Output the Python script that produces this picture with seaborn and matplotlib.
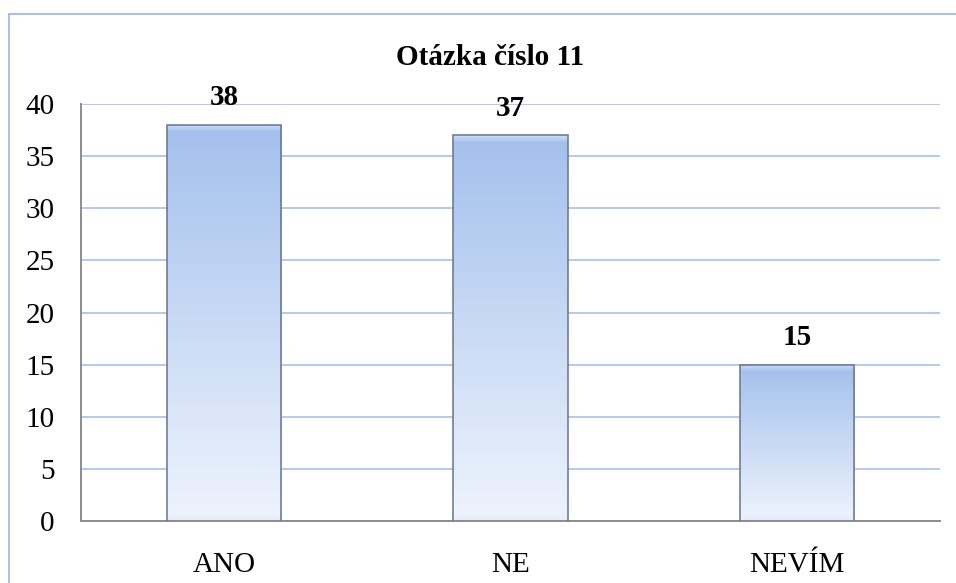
# Bar chart "Otázka číslo 11" - Excel style gradient bars

import seaborn as sns
import matplotlib.pyplot as plt
import numpy as np
import pandas as pd
from matplotlib.colors import to_rgb
from matplotlib.lines import Line2D

categories = ['ANO', 'NE', 'NEVÍM']
counts = [38, 37, 15]
title = 'Otázka číslo 11'
y_ticks = [0, 5, 10, 15, 20, 25, 30, 35, 40]

df = pd.DataFrame({'Odpověď': categories, 'Počet': counts})

sns.set_style("white")
plt.rcParams['font.family'] = ['Liberation Serif', 'DejaVu Serif']
plt.rcParams['text.color'] = 'black'

fig = plt.figure(figsize=(9.56, 5.83), dpi=100)
ax = fig.add_axes([0.0847, 0.1063, 0.8986, 0.7153])

sns.barplot(data=df, x='Odpověď', y='Počet',
            color='#B9CFF1', width=0.4, edgecolor='#66748C', linewidth=1.1,
            ax=ax, zorder=3)

ax.set_xlim(-0.5, 2.5)
ax.set_ylim(0, 40)

# gradient fill inside every bar (dark on top, light at the bottom,
# with a thin light bevel band along the top and bottom edge)
bottom_c = np.array(to_rgb('#EEF4FD'))
mid_c = np.array(to_rgb('#C9DAF5'))
top_c = np.array(to_rgb('#A3C0EC'))
bevel_c = np.array(to_rgb('#D9E6FA'))
px_per_unit = 418 / 40
for patch in ax.patches:
    x0, y0 = patch.get_x(), patch.get_y()
    w, h = patch.get_width(), patch.get_height()
    n = max(int(h * px_per_unit), 2)
    t = np.linspace(0, 1, n)
    rows = np.where(t[:, None] < 0.5,
                    bottom_c + (mid_c - bottom_c) * (t[:, None] / 0.5),
                    mid_c + (top_c - mid_c) * ((t[:, None] - 0.5) / 0.5))
    band = 7
    for k in range(band):
        a = 1 - k / band
        rows[n - 1 - k] = rows[n - 1 - k] * (1 - a * 0.8) + bevel_c * a * 0.8
        rows[k] = rows[k] * (1 - a * 0.5) + np.array(to_rgb('#DCE4F0')) * a * 0.5
    img = rows[:, None, :]
    im = ax.imshow(img, origin='lower', aspect='auto',
                   extent=[x0, x0 + w, y0, y0 + h], zorder=3.5)
    im.set_clip_path(patch)
    patch.set_facecolor('none')
    patch.set_zorder(4)

ax.set_xlim(-0.5, 2.5)
ax.set_ylim(0, 40)
ax.set_yticks(y_ticks)
ax.set_xlabel('')
ax.set_ylabel('')
ax.tick_params(axis='both', length=0, labelsize=21, colors='black')
ax.tick_params(axis='x', pad=22)
ax.tick_params(axis='y', pad=19)

ax.grid(axis='y', color='#B4C8EE', linewidth=1.4, zorder=0)
ax.set_axisbelow(True)
for side in ['top', 'right']:
    ax.spines[side].set_visible(False)
for side in ['left', 'bottom']:
    ax.spines[side].set_color('#8C8C8C')
    ax.spines[side].set_linewidth(1.4)

# value labels above bars
for i, v in enumerate(counts):
    ax.text(i, v + 1.3, str(v), ha='center', va='bottom',
            fontsize=21, fontweight='bold', color='black')

fig.text(0.513, 0.902, title, ha='center', va='center',
         fontsize=21, fontweight='bold', color='black')

# chart frame (only top and left edge visible)
fig.add_artist(Line2D([0.0095, 1.0], [0.976, 0.976], color='#A9C0E8', linewidth=1.5))
fig.add_artist(Line2D([0.0095, 0.0095], [0.0, 0.976], color='#A9C0E8', linewidth=1.5))

plt.savefig('out.png', dpi=100)
